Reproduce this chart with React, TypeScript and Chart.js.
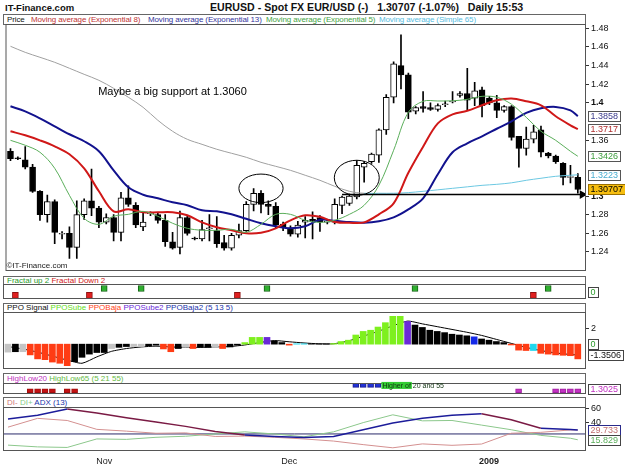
import React, { useEffect, useRef } from "react";
import { Chart, registerables } from "chart.js";

Chart.register(...registerables);

const FONT = '"Liberation Sans", Arial, Helvetica, sans-serif';
Chart.defaults.font.family = FONT;

// ---------------- data ----------------
const opens = [1.348,1.341,1.339,1.331,1.305,1.280,1.294,1.259,1.260,1.245, 1.280,1.295,1.287,1.272,1.277,1.261,1.298,1.290,1.267,1.281, 1.280,1.274,1.251,1.245,1.277,1.255,1.254,1.265,1.263,1.250, 1.244,1.258,1.263,1.291,1.303,1.291,1.289,1.270,1.266,1.259, 1.272,1.275,1.277,1.272,1.272,1.290,1.292,1.299,1.331,1.337, 1.344,1.371,1.406,1.440,1.430,1.391,1.396,1.395,1.393,1.398, 1.401,1.408,1.410,1.405,1.414,1.405,1.400,1.392,1.396,1.364, 1.351,1.361,1.371,1.346,1.343,1.335,1.320,1.320];
const highs = [1.351,1.342,1.353,1.334,1.306,1.301,1.296,1.262,1.267,1.295, 1.297,1.329,1.289,1.281,1.280,1.304,1.311,1.293,1.282,1.283, 1.282,1.280,1.261,1.284,1.279,1.256,1.274,1.280,1.278,1.258, 1.260,1.270,1.294,1.308,1.306,1.295,1.293,1.272,1.268,1.273, 1.278,1.283,1.279,1.275,1.297,1.300,1.302,1.338,1.337,1.346, 1.372,1.409,1.444,1.473,1.432,1.396,1.412,1.400,1.399,1.402, 1.412,1.412,1.437,1.422,1.417,1.407,1.408,1.397,1.397,1.364, 1.374,1.376,1.375,1.347,1.344,1.336,1.333,1.324];
const lows = [1.338,1.339,1.329,1.304,1.274,1.272,1.249,1.254,1.233,1.233, 1.275,1.279,1.266,1.270,1.252,1.252,1.289,1.266,1.263,1.279, 1.271,1.246,1.243,1.238,1.258,1.253,1.252,1.252,1.245,1.242, 1.242,1.255,1.262,1.284,1.282,1.280,1.266,1.263,1.257,1.256, 1.255,1.254,1.262,1.270,1.270,1.281,1.290,1.297,1.315,1.335, 1.336,1.366,1.400,1.415,1.383,1.388,1.390,1.392,1.391,1.396, 1.400,1.406,1.392,1.397,1.385,1.398,1.384,1.390,1.360,1.331, 1.344,1.357,1.342,1.341,1.335,1.312,1.314,1.303];
const closes = [1.340,1.340,1.331,1.305,1.280,1.294,1.261,1.260,1.245,1.280, 1.295,1.287,1.272,1.277,1.261,1.298,1.291,1.269,1.272,1.282, 1.274,1.251,1.244,1.277,1.260,1.254,1.264,1.266,1.249,1.244, 1.258,1.263,1.291,1.303,1.291,1.289,1.269,1.266,1.259,1.269, 1.274,1.273,1.272,1.273,1.291,1.299,1.300,1.333,1.335,1.345, 1.371,1.406,1.442,1.430,1.390,1.395,1.394,1.393,1.397,1.399, 1.402,1.410,1.403,1.413,1.397,1.400,1.392,1.396,1.363,1.351, 1.361,1.369,1.347,1.343,1.337,1.320,1.321,1.30707];

// moving averages, read at every second bar (+ last bar)
const maIdx = [0,2,4,6,8,10,12,14,16,18,20,22,24,26,28,30,32,34,36,38,40,42,44,46,48,50,52,54,56,58,60,62,64,66,68,70,72,74,76,77];
const ema8 = [1.3695,1.3652,1.3598,1.3534,1.3448,1.3298,1.3051,1.2836,1.2858,1.2826,1.2826,1.2826,1.2794,1.2718,1.2665,1.2633,1.2600,1.2606,1.2654,1.2740,1.2794,1.2777,1.2722,1.2713,1.2718,1.2804,1.2922,1.3250,1.3530,1.3780,1.3877,1.3915,1.3974,1.4027,1.4046,1.4017,1.3974,1.3856,1.3759,1.3717];
const ema13 = [1.3963,1.3909,1.3834,1.3748,1.3663,1.3588,1.3481,1.3276,1.3094,1.3014,1.2976,1.2933,1.2901,1.2847,1.2836,1.2804,1.2756,1.2708,1.2676,1.2654,1.2676,1.2745,1.2735,1.2721,1.2713,1.2729,1.2772,1.2858,1.2976,1.3234,1.3470,1.3566,1.3641,1.3722,1.3802,1.3893,1.3942,1.3956,1.3920,1.3858];
const ema5 = [1.3598,1.3545,1.3470,1.3298,1.3008,1.2761,1.2697,1.2783,1.2804,1.2836,1.2783,1.2708,1.2654,1.2633,1.2633,1.2643,1.2611,1.2697,1.2804,1.2804,1.2740,1.2718,1.2740,1.2804,1.2901,1.3115,1.3491,1.3899,1.4017,1.4020,1.4022,1.4038,1.4070,1.4060,1.3985,1.3845,1.3695,1.3598,1.3480,1.3427];
const sma65 = [1.4607,1.4542,1.4489,1.4435,1.4371,1.4306,1.4242,1.4156,1.4060,1.3952,1.3813,1.3695,1.3609,1.3555,1.3502,1.3459,1.3416,1.3362,1.3319,1.3276,1.3223,1.3169,1.3105,1.3051,1.3030,1.3030,1.3030,1.3037,1.3051,1.3067,1.3083,1.3099,1.3115,1.3126,1.3142,1.3169,1.3191,1.3212,1.3223,1.3228];
const smaColourSplit = 48;

const priceTickValues = [1.48,1.46,1.44,1.42,1.4,1.36,1.3,1.28,1.26,1.24];
const priceTickLabels = ["1.48","1.46","1.44","1.42","1.4","1.36","1.3","1.28","1.26","1.24"];
const boldPriceTicks = [1.4, 1.3];
const lastValueNums = [1.3858, 1.3717, 1.3426, 1.3223, 1.30707];
const lastValueTexts = ["1.3858", "1.3717", "1.3426", "1.3223", "1.30707"];

const supportLevel = 1.3016;
const supportFromBar = 45;
const supportToBar = 77.6;
const noteText = "Maybe a big support at 1.3060";
const noteBar = 11.9;
const notePrice = 1.4116;
const ellipseBars = [34, 47];
const ellipsePrices = [1.3083, 1.3196];
const ellipseHalfBars = [3.0, 3.05];
const ellipseHalfPrices = [0.0153, 0.0188];

// fractals
const fractalUpBars = [13, 18, 35, 55, 73];
const fractalDownBars = [1, 11, 31, 71];

// PPO histogram (per bar) and series membership
const ppoHist = [-1.0,-0.95,-0.95,-1.35,-1.85,-1.95,-2.25,-2.4,-2.7,-2.2, -1.65,-1.25,-1.05,-1.05,-0.55,-0.4,-0.3,-0.3,-0.3,-0.2, -0.12,-0.6,-0.95,-0.55,-0.4,-0.55,-0.4,-0.4,-0.4,-0.55, -0.35,-0.12,0.2,0.85,0.85,0.85,0.4,0.2,-0.12,0.05, 0.05,0.03,0.03,0.03,0.08,0.33,0.5,1.15,1.6,1.75, 2.15,2.7,3.5,3.5,2.85,2.4,2.1,1.75,1.6,1.45, 1.25,1.15,1.05,0.92,0.65,0.5,0.33,0.2,-0.1,-0.75, -0.8,-0.8,-1.15,-1.25,-1.35,-1.4,-1.45,-1.85];
const ppoSeries = "GKGRRRRRRKKKKKGKKGGKKRRKGRKKGRKKLLLPKKRCCKKKLLLLLLLLLLPKKKKKKKKBKKKKRRRCRRRRRR";
const ppoSignal = [-0.3,-0.6,-1.0,-1.5,-2.0,-2.4,-1.6,-0.9,-0.55,-0.35,-0.25,-0.35,-0.4,-0.4,-0.35,-0.3,-0.1,0.2,0.45,0.3,0.15,0.05,0.05,0.4,1.0,1.6,2.3,2.9,2.55,2.2,1.85,1.5,1.1,0.6,0.1,-0.4,-0.8,-1.1,-1.3,-1.35];
const ppoTicks = [2];

// HighLow
const hlLowRedBars = [3, 4, 5, 6, 8, 9];
const hlHighBlueBars = [47, 48, 49, 50];
const hlMagentaBars = [69, 74, 75, 76, 77];
const hlNote = "Higher of 20 and 55";
const hlNoteBar = 50.6;

// DI / ADX (read every 4th bar + last)
const diIdx = [0,4,8,12,16,20,24,28,32,36,40,44,48,52,56,60,64,68,72,76,77];
const adx = [45.0,50.5,59.3,53.4,47.0,40.8,34.7,27.5,22.5,20.3,19.0,20.3,30.0,39.5,46.0,50.5,52.5,44.0,32.0,30.2,29.7];
const diMinus = [33.6,46.0,43.0,30.5,28.0,25.0,25.5,20.5,21.0,19.3,17.0,14.0,9.0,4.5,10.0,8.0,9.8,25.0,26.3,29.7,29.7];
const diPlus = [8.3,5.8,5.0,17.0,16.4,19.3,20.8,24.0,27.0,24.0,20.0,27.0,40.0,51.0,42.5,43.0,36.5,30.0,22.0,18.0,15.8];
const adxLevel = 24;
const diTicks = [60, 40];

const xTickBars = [13, 38, 65];
const xTickLabels = ["Nov", "Dec", "2009"];

// ---------------- layout helpers ----------------
const W = 625;
const H = 469;
const X_MIN = -0.676;
const X_MAX = 78.11;
const XAXIS_H = 14;

const seriesColour: Record<string, string> = {
  G: "#c4c4c4", K: "#000000", R: "#ff3c14", L: "#7ef01e", P: "#6a2ad8", B: "#1428e8", C: "#22d8ee",
};

function xScale(show: boolean) {
  return {
    type: "linear",
    min: X_MIN,
    max: X_MAX,
    offset: false,
    display: show,
    afterBuildTicks: (s: any) => { s.ticks = xTickBars.map((v) => ({ value: v })); },
    afterFit: (s: any) => { s.height = show ? XAXIS_H : 0; },
    grid: { display: false, drawTicks: false, offset: false },
    border: { display: false },
    ticks: {
      autoSkip: false,
      maxRotation: 0,
      padding: 5,
      color: "#222",
      font: (c: any) => ({ family: FONT, size: 9, weight: c.tick && c.tick.value === 65 ? "bold" : "normal" }),
      callback: (_v: any, i: number) => xTickLabels[i],
    },
  };
}

function yScale(min: number, max: number, ticks: number[], labels: string[] | null, bold: number[] = []) {
  return {
    position: "right",
    min,
    max,
    afterBuildTicks: (s: any) => { s.ticks = ticks.map((v) => ({ value: v })); },
    afterFit: (s: any) => { s.width = W - 586; },
    grid: { display: true, drawOnChartArea: false, drawTicks: true, tickLength: 3, color: "#333" },
    border: { display: false },
    ticks: {
      autoSkip: false,
      padding: 2,
      color: "#111",
      font: (c: any) => ({ family: FONT, size: 9, weight: c.tick && bold.includes(c.tick.value) ? "bold" : "normal" }),
      callback: (v: any, i: number) => (labels ? labels[i] : String(v)),
    },
  };
}

function plainYScale(min: number, max: number) {
  return {
    position: "right",
    min,
    max,
    afterFit: (s: any) => { s.width = W - 586; },
    grid: { display: false },
    border: { display: false },
    ticks: { display: false },
  };
}

function baseOptions(top: number, bottom: number, showX: boolean, y: any) {
  return {
    responsive: false,
    maintainAspectRatio: false,
    animation: false,
    events: [],
    layout: { padding: { left: 3, right: 0, top, bottom: showX ? H - bottom - XAXIS_H : H - bottom } },
    plugins: { legend: { display: false }, tooltip: { enabled: false }, title: { display: false } },
    scales: { x: xScale(showX), y },
  };
}

const framePlugin = {
  id: "frame",
  afterDatasetsDraw(chart: any) {
    const { ctx, chartArea: a } = chart;
    ctx.save();
    ctx.strokeStyle = "#555";
    ctx.lineWidth = 1;
    ctx.strokeRect(a.left + 0.5, Math.round(a.top) + 0.5, a.right - a.left - 1, Math.round(a.bottom - a.top) - 1);
    ctx.restore();
  },
};

type VBox = { v: number; t: string; fg: string; bg: string; bd: string };
function valueBoxes(items: VBox[]) {
  return {
    id: "vboxes",
    afterDraw(chart: any) {
      const { ctx } = chart;
      const y = chart.scales.y;
      const left = chart.chartArea.right + 2;
      ctx.save();
      ctx.font = `9px ${FONT}`;
      ctx.textBaseline = "middle";
      for (const it of items) {
        const py = Math.round(y.getPixelForValue(it.v));
        const w = Math.ceil(ctx.measureText(it.t).width) + 5;
        const h = 11;
        ctx.fillStyle = it.bg;
        ctx.fillRect(left, py - 5, w, h);
        ctx.strokeStyle = it.bd;
        ctx.lineWidth = 1;
        ctx.strokeRect(left + 0.5, py - 4.5, w - 1, h - 1);
        ctx.fillStyle = it.fg;
        ctx.fillText(it.t, left + 2.5, py + 0.5);
      }
      ctx.restore();
    },
  };
}

const mainNotes = {
  id: "mainNotes",
  afterDatasetsDraw(chart: any) {
    const { ctx, chartArea: a } = chart;
    const x = chart.scales.x;
    const y = chart.scales.y;
    ctx.save();
    ctx.beginPath();
    ctx.rect(a.left, a.top, a.right - a.left, a.bottom - a.top);
    ctx.clip();
    ctx.strokeStyle = "#000";
    ctx.lineWidth = 1;
    for (let k = 0; k < ellipseBars.length; k++) {
      const cx = x.getPixelForValue(ellipseBars[k]);
      const cy = y.getPixelForValue(ellipsePrices[k]);
      const rx = Math.abs(x.getPixelForValue(ellipseBars[k] + ellipseHalfBars[k]) - cx);
      const ry = Math.abs(y.getPixelForValue(ellipsePrices[k] + ellipseHalfPrices[k]) - cy);
      ctx.beginPath();
      ctx.ellipse(cx, cy, rx, ry, 0, 0, Math.PI * 2);
      ctx.stroke();
    }
    ctx.fillStyle = "#000";
    ctx.font = `11px ${FONT}`;
    ctx.textBaseline = "middle";
    ctx.fillText(noteText, x.getPixelForValue(noteBar), y.getPixelForValue(notePrice));
    ctx.font = `8px ${FONT}`;
    ctx.fillStyle = "#222";
    ctx.fillText("\u00a9IT-Finance.com", a.left + 1, a.bottom - 5);
    ctx.restore();
  },
};

const hlNotes = {
  id: "hlNotes",
  afterDatasetsDraw(chart: any) {
    const { ctx } = chart;
    const x = chart.scales.x;
    const y = chart.scales.y;
    const px = x.getPixelForValue(hlNoteBar);
    const py = y.getPixelForValue(0.78);
    ctx.save();
    ctx.font = `7px ${FONT}`;
    ctx.textBaseline = "middle";
    const w = ctx.measureText("Higher of").width;
    ctx.fillStyle = "#33cc33";
    ctx.fillRect(px - 1, py - 3.5, w + 2, 7);
    ctx.fillStyle = "#113311";
    ctx.fillText(hlNote, px, py + 0.5);
    ctx.restore();
  },
};

const bars = opens.map((_, i) => i);

function mainConfig() {
  const line = (vals: number[], colour: string, width: number, order: number) => ({
    type: "line",
    data: maIdx.map((b, k) => ({ x: b, y: vals[k] })),
    borderColor: colour,
    borderWidth: width,
    pointRadius: 0,
    tension: 0.35,
    order,
  });
  return {
    type: "bar",
    data: {
      datasets: [
        {
          type: "bar",
          data: bars.map((i) => ({ x: i, y: [lows[i], highs[i]] })),
          backgroundColor: "#000",
          barThickness: 1,
          grouped: false,
          order: 9,
        },
        {
          type: "bar",
          data: bars.map((i) => ({ x: i, y: [opens[i], closes[i]] })),
          backgroundColor: bars.map((i) => (closes[i] >= opens[i] ? "#ffffff" : "#000000")),
          borderColor: "#000",
          borderWidth: 1,
          borderSkipped: false,
          barThickness: 6,
          grouped: false,
          order: 8,
        },
        {
          ...line(sma65, "#a0a0a0", 1, 5),
          segment: { borderColor: (c: any) => (c.p0.parsed.x < smaColourSplit ? "#a0a0a0" : "#6cc8e2") },
        },
        line(ema13, "#12128e", 2, 4),
        line(ema8, "#d01818", 2, 3),
        line(ema5, "#5aae5a", 1, 2),
        {
          type: "line",
          data: [{ x: supportFromBar, y: supportLevel }, { x: supportToBar, y: supportLevel }],
          borderColor: "#000",
          borderWidth: 1.5,
          pointRadius: [0, 3.5],
          pointStyle: "triangle",
          rotation: 90,
          pointBackgroundColor: "#000",
          pointBorderColor: "#000",
          order: 1,
        },
      ],
    },
    options: baseOptions(24, 271, false, yScale(1.2196, 1.4846, priceTickValues, priceTickLabels, boldPriceTicks)),
    plugins: [
      framePlugin,
      mainNotes,
      valueBoxes([
        { v: lastValueNums[0], t: lastValueTexts[0], fg: "#3a3a8c", bg: "#ffffff", bd: "#555" },
        { v: lastValueNums[1], t: lastValueTexts[1], fg: "#b03030", bg: "#ffffff", bd: "#555" },
        { v: lastValueNums[2], t: lastValueTexts[2], fg: "#3c9c3c", bg: "#ffffff", bd: "#555" },
        { v: lastValueNums[3], t: lastValueTexts[3], fg: "#4aaed0", bg: "#ffffff", bd: "#555" },
        { v: lastValueNums[4], t: lastValueTexts[4], fg: "#000000", bg: "#f6be10", bd: "#9a7000" },
      ]),
    ],
  };
}

// square event markers: small floating bars centred on a level
const markers = (list: number[], level: number, half: number, fill: string, edge: string) => ({
  type: "bar",
  data: list.map((b) => ({ x: b, y: [level - half, level + half] })),
  backgroundColor: fill,
  borderColor: edge,
  borderWidth: 1,
  borderSkipped: false,
  barThickness: 6,
  grouped: false,
});

function fractalConfig() {
  return {
    type: "bar",
    data: {
      datasets: [
        markers(fractalUpBars, 0.4, 0.4, "#2fb02f", "#146414"),
        markers(fractalDownBars, -0.52, 0.4, "#e02020", "#901010"),
      ],
    },
    options: baseOptions(284, 299, false, plainYScale(-1, 1)),
    plugins: [framePlugin, valueBoxes([{ v: 0, t: "0", fg: "#2a9a2a", bg: "#fff", bd: "#444" }])],
  };
}

function ppoConfig() {
  return {
    type: "bar",
    data: {
      datasets: [
        {
          type: "bar",
          data: bars.map((i) => ({ x: i, y: ppoHist[i] })),
          backgroundColor: bars.map((i) => seriesColour[ppoSeries[i]]),
          barThickness: 6,
          grouped: false,
          order: 2,
        },
        {
          type: "line",
          data: maIdx.map((b, k) => ({ x: b, y: ppoSignal[k] })),
          borderColor: "#000",
          borderWidth: 1,
          pointRadius: 0,
          tension: 0.2,
          order: 3,
        },
      ],
    },
    options: baseOptions(312, 369, false, yScale(-3.12, 4.04, ppoTicks, null)),
    plugins: [
      framePlugin,
      valueBoxes([
        { v: 0, t: "0", fg: "#2a9a2a", bg: "#fff", bd: "#444" },
        { v: -1.3506, t: "-1.3506", fg: "#111", bg: "#fff", bd: "#444" },
      ]),
    ],
  };
}

function hlConfig() {
  return {
    type: "bar",
    data: {
      datasets: [
        markers(hlLowRedBars, 0.29, 0.18, "#c41212", "#a00c0c"),
        markers(hlHighBlueBars, 0.78, 0.18, "#2232d4", "#1a1a90"),
        markers(hlMagentaBars, 0.29, 0.18, "#c232c2", "#a020a0"),
      ],
    },
    options: baseOptions(383, 394, false, plainYScale(0, 1)),
    plugins: [framePlugin, hlNotes, valueBoxes([{ v: 0.5, t: "1.3025", fg: "#c030c0", bg: "#fff", bd: "#444" }])],
  };
}

function diConfig() {
  const line = (vals: number[], colour: string, width: number, order: number) => ({
    data: diIdx.map((b, k) => ({ x: b, y: vals[k] })),
    borderColor: colour,
    borderWidth: width,
    pointRadius: 0,
    tension: 0,
    order,
  });
  return {
    type: "line",
    data: {
      datasets: [
        line(diPlus, "#8cc88c", 1, 4),
        line(diMinus, "#d49090", 1, 3),
        {
          ...line(adx, "#1c1c9a", 1.5, 2),
          segment: { borderColor: (c: any) => (c.p1.parsed.y < c.p0.parsed.y - 2.5 ? "#7a1a44" : "#1c1c9a") },
        },
        {
          data: [{ x: X_MIN, y: adxLevel }, { x: X_MAX, y: adxLevel }],
          borderColor: "#2a2a6a",
          borderWidth: 1,
          pointRadius: 0,
          order: 5,
        },
      ],
    },
    options: baseOptions(407, 451, true, yScale(0, 62, diTicks, null)),
    plugins: [
      framePlugin,
      valueBoxes([
        { v: 29.733, t: "29.733", fg: "#c07070", bg: "#fff", bd: "#2a2a8a" },
        { v: 15.829, t: "15.829", fg: "#5aae5a", bg: "#fff", bd: "#444" },
      ]),
    ],
  };
}

const legendBox = (top: number, height: number): React.CSSProperties => ({
  position: "absolute",
  left: 3,
  top,
  width: 583,
  height,
  boxSizing: "border-box",
  border: "1px solid #666",
  background: "#fff",
  fontSize: 8,
  lineHeight: `${height - 2}px`,
  paddingLeft: 3,
  whiteSpace: "pre",
  overflow: "hidden",
});

const legendItem = (left: number, color: string): React.CSSProperties => ({
  position: "absolute",
  left,
  top: 0,
  color,
  letterSpacing: "-0.12px",
});

const canvasStyle: React.CSSProperties = { position: "absolute", left: 0, top: 0, width: W, height: H };

export default function App() {
  const r1 = useRef<HTMLCanvasElement>(null);
  const r2 = useRef<HTMLCanvasElement>(null);
  const r3 = useRef<HTMLCanvasElement>(null);
  const r4 = useRef<HTMLCanvasElement>(null);
  const r5 = useRef<HTMLCanvasElement>(null);

  useEffect(() => {
    const charts: Chart[] = [];
    const cfgs: any[] = [mainConfig(), fractalConfig(), ppoConfig(), hlConfig(), diConfig()];
    const refs = [r1, r2, r3, r4, r5];
    refs.forEach((r, k) => {
      if (r.current) charts.push(new Chart(r.current, cfgs[k]));
    });
    return () => charts.forEach((c) => c.destroy());
  }, []);

  return (
    <div style={{ position: "absolute", left: 0, top: 0, width: W, height: H, background: "#fff", fontFamily: FONT, overflow: "hidden" }}>
      <div style={{ position: "absolute", left: 5, top: 2, fontSize: 9.5, fontWeight: "bold", color: "#111" }}>IT-Finance.com</div>
      <div style={{ position: "absolute", left: 210, top: 1, fontSize: 10.6, fontWeight: "bold", color: "#111", whiteSpace: "pre" }}>
        {"EURUSD - Spot FX EUR/USD (-)   1.30707 (-1.07%)   Daily 15:53"}
      </div>

      <div style={legendBox(14, 11)}>
        <span style={legendItem(3, "#111")}>Price</span>
        <span style={legendItem(27, "#c03434")}>Moving average (Exponential 8)</span>
        <span style={legendItem(144, "#34349c")}>Moving average (Exponential 13)</span>
        <span style={legendItem(262, "#44a444")}>Moving average (Exponential 5)</span>
        <span style={legendItem(375, "#58bce0")}>Moving average (Simple 65)</span>
      </div>

      <div style={legendBox(276, 9)}>
        <span style={{ color: "#2a9a2a" }}>Fractal up 2</span>
        <span style={{ color: "#d02020" }}>{" Fractal Down 2"}</span>
      </div>

      <div style={legendBox(303, 10)}>
        <span style={{ color: "#111" }}>PPO Signal</span>
        <span style={{ color: "#66dd22" }}>{" PPOSube"}</span>
        <span style={{ color: "#ff4422" }}>{" PPOBaja"}</span>
        <span style={{ color: "#6a2ad8" }}>{" PPOSube2"}</span>
        <span style={{ color: "#2233aa" }}>{" PPOBaja2 (5 13 5)"}</span>
      </div>

      <div style={legendBox(373, 11)}>
        <span style={{ color: "#c030c0" }}>HighLow20</span>
        <span style={{ color: "#66bb44" }}>{" HighLow65 (5 21 55)"}</span>
      </div>

      <div style={legendBox(397, 11)}>
        <span style={{ color: "#d07878" }}>DI-</span>
        <span style={{ color: "#88cc88" }}>{" DI+"}</span>
        <span style={{ color: "#2233aa" }}>{" ADX (13)"}</span>
      </div>

      <canvas ref={r1} width={W} height={H} style={canvasStyle} />
      <canvas ref={r2} width={W} height={H} style={canvasStyle} />
      <canvas ref={r3} width={W} height={H} style={canvasStyle} />
      <canvas ref={r4} width={W} height={H} style={canvasStyle} />
      <canvas ref={r5} width={W} height={H} style={canvasStyle} />
    </div>
  );
}
